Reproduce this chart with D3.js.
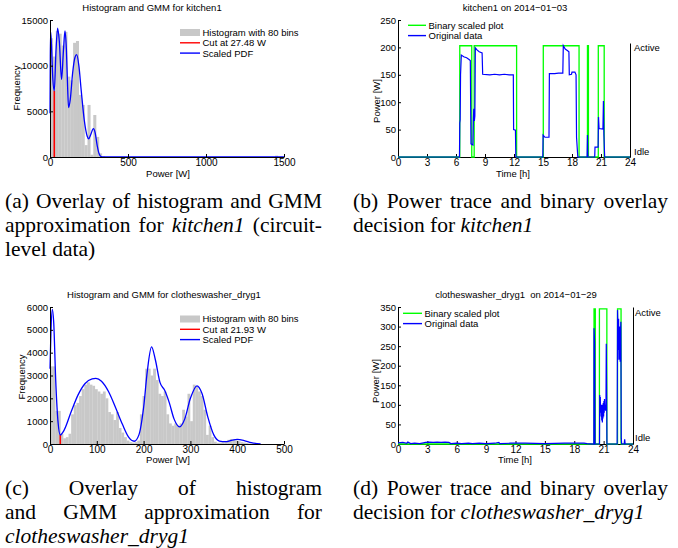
<!DOCTYPE html>
<html>
<head>
<meta charset="utf-8">
<script src="https://cdn.jsdelivr.net/npm/d3@7"></script>
<style>
body { margin: 0; background: #fff; }
svg text { font-family: "Liberation Sans", Arial, sans-serif; fill: #000; }
.axis text { font-size: 10px; }
.axis.yax text { font-size: 9.5px; }
.lbl { font-size: 9.5px; }
.cap text { font-family: "Liberation Serif", "Times New Roman", serif; font-size: 21.5px; }
</style>
</head>
<body>
<div id="fig"></div>
<script>
// ---- data ----
// (a) kitchen1 histogram, 80 bins
const kitchenBinWidth = 18.5;
const kitchenCounts = [
    13000, 11000, 13800, 13500, 12200, 13700, 8800, 8400, 12500, 12700,
    6800, 5700, 1300, 5700, 250, 4600, 2200, 400, 80, 0,
    0, 0, 0, 0, 0, 0, 0, 0, 0, 0,
    0, 0, 0, 0, 0, 0, 0, 0, 0, 0,
    0, 0, 0, 0, 0, 0, 0, 0, 0, 0,
    0, 0, 0, 0, 0, 0, 0, 0, 0, 0,
    0, 0, 0, 0, 0, 0, 0, 0, 0, 0,
    0, 0, 0, 0, 0, 0, 0, 0, 150, 0
];
const kitchenPdf = [
    [0, 4800], [2, 11000], [4, 13700], [9, 12400], [18, 8600], [27.5, 7250], [38, 11500],
    [49, 14100], [60, 12600], [74, 8500], [86, 11600], [96, 13800], [105, 11800],
    [113, 7600], [119, 5400], [130, 6300], [145, 9200], [160, 10900], [171, 11200],
    [185, 10000], [200, 7300], [220, 4000], [238, 2300], [248, 2000], [262, 2500],
    [278, 3100], [290, 2600], [302, 1300], [315, 350], [327, 40], [340, 0], [1500, 0]
];
const kitchenCut = 27.48;
const kitchenCutHeight = 7250;

// (c) clotheswasher_dryg1 histogram, 80 bins
const washerBinWidth = 5.65;
const washerCounts = [
    3400, 3400, 1450, 1450, 450, 250, 300, 450, 1300, 1700,
    1800, 2100, 2400, 2600, 2700, 2600, 2550, 2400, 2300, 2200,
    2300, 2000, 1400, 1300, 1050, 1400, 700, 500, 300, 150,
    80, 60, 80, 150, 1300, 2100, 3300, 3300, 3000, 3300,
    2800, 2200, 2100, 2300, 1300, 900, 800, 900, 800, 900,
    1500, 1200, 2200, 1000, 2600, 2500, 2300, 2100, 1500, 400,
    800, 300, 100, 50, 60, 80, 120, 180, 220, 200,
    150, 120, 80, 60, 40, 20, 10, 10, 0, 0
];
const washerPdf = [
    [0, 3300], [2, 4900], [5, 5900], [8, 5300], [12, 2900], [17, 1000], [22, 400],
    [30, 600], [45, 1400], [60, 2150], [75, 2650], [90, 2850], [98, 2870], [110, 2750],
    [125, 2300], [140, 1600], [155, 850], [168, 300], [180, 120], [190, 400],
    [200, 1600], [208, 3200], [217, 4250], [225, 3700], [235, 2700], [245, 2350],
    [255, 1800], [265, 1100], [277, 750], [288, 1100], [300, 2000], [314, 2550],
    [325, 2200], [337, 1200], [350, 400], [362, 130], [375, 100], [390, 170],
    [400, 200], [415, 150], [430, 60], [450, 0]
];
const washerCut = 21.93;
const washerCutHeight = 400;

// (b) kitchen1 on 2014-01-03: [hour, W]
const kitchenTrace = [
    [0, 0], [6.36, 0], [6.39, 62], [6.43, 68], [6.47, 150], [6.55, 186], [6.8, 183],
    [7.1, 181], [7.35, 178], [7.48, 176], [7.55, 24], [7.75, 22], [7.8, 70], [7.84, 88],
    [7.9, 66], [7.95, 75], [8.0, 199], [8.2, 195], [8.4, 192], [8.7, 190], [8.76, 151],
    [9.5, 150], [10, 151], [10.5, 150], [11, 151], [11.5, 150], [11.93, 150], [11.96, 50],
    [12.15, 49], [12.19, 0], [14.98, 0], [15.01, 40], [15.2, 36], [15.62, 36], [15.66, 152],
    [16.2, 152], [16.6, 153], [17.05, 153], [17.1, 203], [17.3, 197], [17.55, 194],
    [17.68, 192], [17.72, 150], [17.95, 151], [18.0, 155], [18.3, 155], [18.42, 150],
    [18.47, 36], [18.6, 0], [19.56, 0], [19.6, 40], [19.64, 0], [20.35, 0], [20.38, 18],
    [20.7, 18], [20.74, 73], [20.8, 52], [21.2, 51], [21.25, 102], [21.3, 40], [21.38, 0],
    [24, 0]
];
const kitchenBinaryHours = [0, 6.39, 7.63, 7.88, 12.27, 15.03, 18.73, 19.6, 19.7, 20.72, 21.33, 24];
const kitchenBinaryStates = [0, 1, 0, 1, 0, 1, 0, 1, 0, 1, 0, 0];
const kitchenActive = 203;

// (d) clotheswasher_dryg1 on 2014-01-29: [hour, W]
const washerTrace = [
    [0, 3], [0.5, 4], [0.9, 2], [1.0, 5], [1.3, 1], [1.7, 2], [2.2, 1], [2.6, 3], [2.8, 4],
    [3.2, 5], [3.6, 4], [4.0, 5], [4.4, 4], [4.8, 5], [5.2, 4], [5.4, 1], [6.0, 2], [6.5, 1],
    [7.2, 2], [7.6, 1], [8.3, 2], [9.0, 1], [9.9, 2], [10.3, 4], [10.4, 1], [11.5, 2],
    [13, 2], [15, 1], [17, 2], [19, 2], [19.3, 1], [20.0, 0], [20.02, 296], [20.08, 260],
    [20.12, 0], [20.58, 0], [20.6, 125], [20.63, 95], [20.66, 120], [20.69, 80], [20.72, 100],
    [20.75, 70], [20.78, 90], [20.81, 60], [20.84, 100], [20.87, 55], [20.9, 85], [20.93, 65],
    [20.96, 105], [21.0, 70], [21.03, 110], [21.06, 80], [21.09, 115], [21.12, 90],
    [21.16, 100], [21.2, 85], [21.24, 95], [21.27, 256], [21.31, 120], [21.34, 0],
    [22.38, 0], [22.42, 342], [22.46, 300], [22.5, 240], [22.53, 320], [22.56, 215],
    [22.6, 290], [22.63, 230], [22.66, 300], [22.69, 210], [22.72, 280], [22.76, 312],
    [22.8, 15], [22.84, 0], [23.1, 0], [23.15, 12], [23.2, 0], [24, 0]
];
const washerBinaryHours = [0, 20.02, 20.15, 20.57, 21.33, 22.42, 22.78, 24];
const washerBinaryStates = [0, 1, 0, 1, 0, 1, 0, 0];
const washerActive = 345;

const hourTicks = [0, 3, 6, 9, 12, 15, 18, 21, 24];

// captions, *word* is italic
const captionA = ['(a) Overlay of histogram and GMM', 'approximation for *kitchen1* (circuit-', 'level data)'];
const captionB = ['(b) Power trace and binary overlay', 'decision for *kitchen1*'];
const captionC = ['(c) Overlay of histogram', 'and GMM approximation for', '*clotheswasher_dryg1*'];
const captionD = ['(d) Power trace and binary overlay', 'decision for *clotheswasher_dryg1*'];

// ---- drawing ----
const svg = d3.select('#fig').append('svg')
    .attr('width', 678)
    .attr('height', 548);

const grey = '#c8c8c8', red = '#ff0000', blue = '#0000ff', green = '#00ff00';

function makeAxes(box, xDomain, yDomain, xTicks, yTicks) {
    let x = d3.scaleLinear().domain(xDomain).range([box.left, box.right]);
    let y = d3.scaleLinear().domain(yDomain).range([box.bottom, box.top]);
    return {x, y, draw: () => {
        svg.append('g')
            .attr('class', 'axis')
            .attr('transform', `translate(0,${box.bottom})`)
            .call(d3.axisBottom(x).tickValues(xTicks).tickFormat(d3.format('d'))
                .tickSizeInner(-3).tickSizeOuter(0).tickPadding(1.5));
        svg.append('g')
            .attr('class', 'axis yax')
            .attr('transform', `translate(${box.left},0)`)
            .call(d3.axisLeft(y).tickValues(yTicks).tickFormat(d3.format('d'))
                .tickSizeInner(-3).tickSizeOuter(0).tickPadding(2));
    }};
}

function label(txt, x, y, rotate, anchor) {
    let t = svg.append('text').attr('class', 'lbl')
        .attr('text-anchor', anchor || 'middle')
        .style('white-space', 'pre')
        .text(txt);
    if (rotate) t.attr('transform', `translate(${x},${y}) rotate(-90)`);
    else t.attr('x', x).attr('y', y);
    return t;
}

function legend(x0, x1, y0, rows) {
    rows.forEach((r, i) => {
        let y = y0 + i * 10.3;
        if (r.type === 'patch') {
            svg.append('rect').attr('x', x0).attr('y', y - 3.5)
                .attr('width', x1 - x0).attr('height', 7).attr('fill', r.color);
        } else {
            svg.append('line').attr('x1', x0).attr('x2', x1).attr('y1', y).attr('y2', y)
                .attr('stroke', r.color).attr('stroke-width', 1.4);
        }
        label(r.text, x1 + 2.5, y + 3.4, false, 'start');
    });
}

function histPanel(box, cfg) {
    let ax = makeAxes(box, cfg.xDomain, cfg.yDomain, cfg.xTicks, cfg.yTicks);
    let bw = cfg.binWidth;
    svg.append('g').selectAll('rect')
        .data(cfg.counts).enter()
        .append('rect')
        .attr('fill', grey)
        .attr('x', (d, i) => ax.x(i * bw))
        .attr('y', d => ax.y(d))
        .attr('width', ax.x(bw) - ax.x(0) + 0.15)
        .attr('height', d => ax.y(0) - ax.y(d));
    svg.append('line')
        .attr('x1', ax.x(cfg.cut)).attr('x2', ax.x(cfg.cut))
        .attr('y1', ax.y(0)).attr('y2', ax.y(cfg.cutHeight))
        .attr('stroke', red).attr('stroke-width', 1.6);
    svg.append('path')
        .datum(cfg.pdf)
        .attr('fill', 'none')
        .attr('stroke', blue)
        .attr('stroke-width', 1.3)
        .attr('d', d3.line().x(d => ax.x(d[0])).y(d => ax.y(d[1])).curve(d3.curveMonotoneX));
    ax.draw();
    return ax;
}

function tracePanel(box, cfg) {
    let ax = makeAxes(box, [0, 24], cfg.yDomain, hourTicks, cfg.yTicks);
    ax.draw();
    // right "Idle / Active" axis
    let yr = d3.scaleLinear().domain([-0.05, 1.045]).range([ax.y(0), ax.y(cfg.rightTop)]);
    svg.append('g')
        .attr('class', 'axis yax')
        .attr('transform', `translate(${box.right},0)`)
        .call(d3.axisRight(yr).tickValues([0, 1]).tickFormat(d => d ? 'Active' : 'Idle')
            .tickSizeInner(0).tickSizeOuter(0).tickPadding(cfg.rightPad));

    let bin = cfg.binHours.map((h, i) => [h, cfg.binStates[i] * cfg.active]);
    svg.append('path')
        .datum(bin)
        .attr('fill', 'none')
        .attr('stroke', green)
        .attr('stroke-width', 1.3)
        .attr('d', d3.line().x(d => ax.x(d[0])).y(d => ax.y(d[1])).curve(d3.curveStepAfter));
    svg.append('path')
        .datum(cfg.trace)
        .attr('fill', 'none')
        .attr('stroke', blue)
        .attr('stroke-width', 1.2)
        .attr('d', d3.line().x(d => ax.x(d[0])).y(d => ax.y(d[1])));
    return ax;
}

// (a)
histPanel({left: 50, right: 284, top: 20, bottom: 157}, {
    xDomain: [0, 1500], yDomain: [0, 15000],
    xTicks: [0, 500, 1000, 1500], yTicks: [0, 5000, 10000, 15000],
    binWidth: kitchenBinWidth, counts: kitchenCounts, pdf: kitchenPdf,
    cut: kitchenCut, cutHeight: kitchenCutHeight
});
label('Histogram and GMM for kitchen1', 152, 11);
label('Power [W]', 168, 177);
label('Frequency', 20.3, 88, true);
legend(180, 200, 32.5, [
    {type: 'patch', color: grey, text: 'Histogram with 80 bins'},
    {type: 'line', color: red, text: 'Cut at 27.48 W'},
    {type: 'line', color: blue, text: 'Scaled PDF'}
]);

// (c)
histPanel({left: 50, right: 284, top: 307, bottom: 444}, {
    xDomain: [0, 500], yDomain: [0, 6000],
    xTicks: [0, 100, 200, 300, 400, 500], yTicks: [0, 1000, 2000, 3000, 4000, 5000, 6000],
    binWidth: washerBinWidth, counts: washerCounts, pdf: washerPdf,
    cut: washerCut, cutHeight: washerCutHeight
});
label('Histogram and GMM for clotheswasher_dryg1', 164, 297.5);
label('Power [W]', 168, 463);
label('Frequency', 25, 377, true);
legend(180, 200, 319, [
    {type: 'patch', color: grey, text: 'Histogram with 80 bins'},
    {type: 'line', color: red, text: 'Cut at 21.93 W'},
    {type: 'line', color: blue, text: 'Scaled PDF'}
]);

// (b)
tracePanel({left: 398, right: 630, top: 20, bottom: 157}, {
    yDomain: [0, 250], yTicks: [0, 50, 100, 150, 200, 250],
    rightTop: 208, rightPad: 4,
    binHours: kitchenBinaryHours, binStates: kitchenBinaryStates, active: kitchenActive,
    trace: kitchenTrace
});
label('kitchen1 on 2014\u221201\u221203', 515, 11);
label('Time [h]', 513, 177);
label('Power [W]', 379.5, 101, true);
legend(408, 426, 25.3, [
    {type: 'line', color: green, text: 'Binary scaled plot'},
    {type: 'line', color: blue, text: 'Original data'}
]);

// (d)
tracePanel({left: 398, right: 633, top: 307, bottom: 444}, {
    yDomain: [0, 350], yTicks: [0, 50, 100, 150, 200, 250, 300, 350],
    rightTop: 350, rightPad: 2,
    binHours: washerBinaryHours, binStates: washerBinaryStates, active: washerActive,
    trace: washerTrace
});
label('clotheswasher_dryg1  on 2014\u221201\u221229', 516, 297.5);
label('Time [h]', 515, 463);
label('Power [W]', 379, 381, true);
legend(403, 422, 313.3, [
    {type: 'line', color: green, text: 'Binary scaled plot'},
    {type: 'line', color: blue, text: 'Original data'}
]);

// captions: full lines justified, last line ragged
function caption(left, width, baseline, lines) {
    let g = svg.append('g').attr('class', 'cap');
    lines.forEach((ln, i) => {
        let y = baseline + i * 24;
        let words = ln.split(' ').map(w => ({t: w.replace(/\*/g, ''), it: w.startsWith('*')}));
        let nodes = words.map(w => g.append('text').attr('y', y)
            .attr('font-style', w.it ? 'italic' : 'normal').text(w.t));
        let widths = nodes.map(n => n.node().getComputedTextLength());
        let last = i === lines.length - 1;
        let gap = (!last && words.length > 1) ? (width - d3.sum(widths)) / (words.length - 1) : 5.4;
        let x = left;
        nodes.forEach((n, j) => { n.attr('x', x); x += widths[j] + gap; });
    });
}
caption(5, 317, 208, captionA);
caption(353, 315, 208, captionB);
caption(5, 317, 495, captionC);
caption(353, 315, 495, captionD);
</script>
</body>
</html>
